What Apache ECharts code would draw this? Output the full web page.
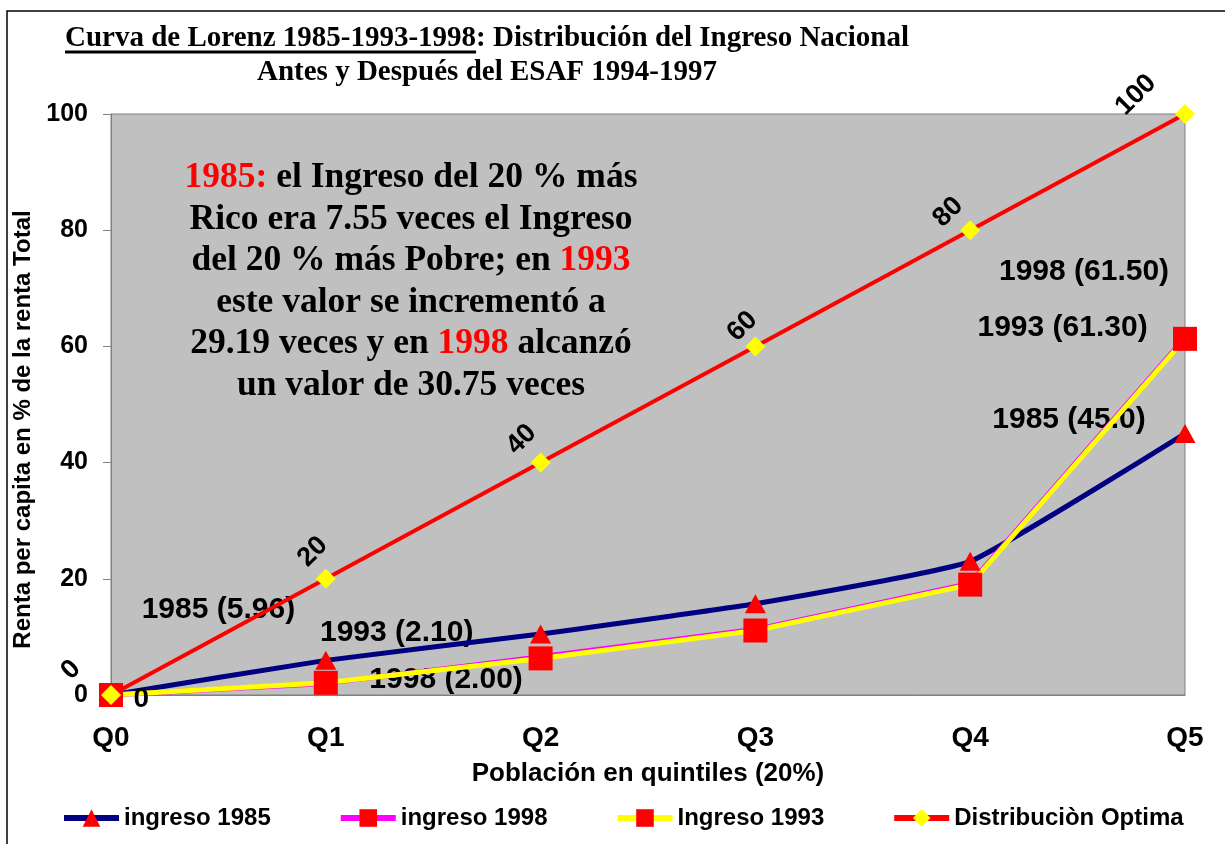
<!DOCTYPE html>
<html>
<head>
<meta charset="utf-8">
<script src="https://cdn.jsdelivr.net/npm/echarts@6/dist/echarts.min.js"></script>
<style>
  html, body { margin: 0; padding: 0; background: #fff; }
  #main { width: 1225px; height: 844px; }
</style>
</head>
<body>
<div id="main"></div>
<script>
// datos
var quintiles = ['Q0', 'Q1', 'Q2', 'Q3', 'Q4', 'Q5'];
var ingreso1985 = [0, 5.96, 10.5, 15.7, 23.0, 45.0];
var ingreso1998 = [0, 2.0, 6.6, 11.3, 19.2, 61.5];
var ingreso1993 = [0, 2.1, 6.3, 11.1, 19.0, 61.3];
var optima = [0, 20, 40, 60, 80, 100];

// notas sueltas: texto, posicion en quintiles, valor
var notas = [
    ['1985 (5.96)', 0.5, 14.6],
    ['1993 (2.10)', 1.33, 10.8],
    ['1998 (2.00)', 1.56, 2.6],
    ['1998 (61.50)', 4.53, 72.8],
    ['1993 (61.30)', 4.43, 63.2],
    ['1985 (45.0)', 4.46, 47.3]
];

var tituloA = 'Curva de Lorenz 1985-1993-1998';
var tituloB = ': Distribución del Ingreso Nacional';
var tituloC = 'Antes y Después del ESAF 1994-1997';

var texto = [
    '{r|1985:} el Ingreso del 20 % más',
    'Rico era 7.55 veces el Ingreso',
    'del 20 % más Pobre; en {r|1993}',
    'este valor se incrementó a',
    '29.19 veces y en {r|1998} alcanzó',
    'un valor de 30.75 veces'
].join('\n');

// desplazamiento de las etiquetas de la linea optima (pantalla, px)
var desplOptima = [[-40, -25], [-13, -27], [-19, -23], [-13, -20], [-22, -18], [-49, -19]];

var chart = echarts.init(document.getElementById('main'));

var c45 = Math.SQRT1_2;
var optimaData = optima.map(function (v, i) {
    var d = desplOptima[i];
    return {
        value: v,
        label: { offset: [d[0] * c45 - d[1] * c45, d[0] * c45 + d[1] * c45] }
    };
});

var data1985 = ingreso1985.map(function (v, i) {
    if (i === 0) {
        return { value: v, label: { show: true, position: 'right', distance: 12, offset: [0, 4], fontSize: 28, fontWeight: 'bold', color: '#000', fontFamily: 'Arial' } };
    }
    return v;
});

var option = {
    animation: false,
    backgroundColor: '#fff',
    grid: {
        left: 111, right: 40, top: 114, bottom: 149,
        show: true, backgroundColor: '#C0C0C0', borderColor: '#808080', borderWidth: 1
    },
    legend: {
        left: 61, top: 806, padding: 0,
        itemWidth: 55, itemHeight: 22, itemGap: 67,
        lineStyle: { width: 6 },
        textStyle: { fontFamily: 'Arial', fontWeight: 'bold', fontSize: 24, color: '#000' },
        data: ['ingreso 1985', 'ingreso 1998', 'Ingreso 1993', 'Distribuciòn Optima']
    },
    xAxis: {
        type: 'category',
        data: quintiles,
        boundaryGap: false,
        axisLine: { lineStyle: { color: '#808080', width: 1 } },
        axisTick: { show: false },
        axisLabel: { margin: 29, fontFamily: 'Arial', fontWeight: 'bold', fontSize: 28, color: '#000' },
        name: 'Población en quintiles (20%)',
        nameLocation: 'middle',
        nameGap: 66,
        nameTextStyle: { fontFamily: 'Arial', fontWeight: 'bold', fontSize: 26, color: '#000' }
    },
    yAxis: {
        type: 'value',
        min: 0, max: 100, interval: 20,
        splitLine: { show: false },
        axisLine: { show: true, lineStyle: { color: '#808080', width: 1 } },
        axisTick: { show: true, length: 8, lineStyle: { color: '#808080' } },
        axisLabel: { margin: 23, fontFamily: 'Arial', fontWeight: 'bold', fontSize: 25, color: '#000' },
        name: 'Renta per capita en % de la renta Total',
        nameLocation: 'middle',
        nameGap: 67,
        nameTextStyle: { fontFamily: 'Arial', fontWeight: 'bold', fontSize: 24, color: '#000', padding: [0, 50, 0, 0] }
    },
    series: [
        {
            name: 'ingreso 1985', type: 'line', data: data1985, smooth: 0.12,
            symbol: 'triangle', symbolSize: [21, 19],
            lineStyle: { color: '#000080', width: 5 },
            itemStyle: { color: '#FF0000' },
            emphasis: { disabled: true }
        },
        {
            name: 'ingreso 1998', type: 'line', data: ingreso1998,
            symbol: 'rect', symbolSize: 12,
            lineStyle: { color: '#FF00FF', width: 5 },
            itemStyle: { color: '#FF0000' },
            emphasis: { disabled: true }
        },
        {
            name: 'Ingreso 1993', type: 'line', data: ingreso1993,
            symbol: 'rect', symbolSize: 24,
            lineStyle: { color: '#FFFF00', width: 5 },
            itemStyle: { color: '#FF0000' },
            emphasis: { disabled: true }
        },
        {
            name: 'Distribuciòn Optima', type: 'line', data: optimaData,
            symbol: 'diamond', symbolSize: 20,
            lineStyle: { color: '#FF0000', width: 4 },
            itemStyle: { color: '#FFFF00' },
            label: {
                show: true, position: 'inside', rotate: 45,
                align: 'center', verticalAlign: 'middle',
                fontFamily: 'Arial', fontWeight: 'bold', fontSize: 27, color: '#000'
            },
            emphasis: { disabled: true }
        }
    ]
};
chart.setOption(option);

// titulo con subrayado y cuadro de texto, y notas en coordenadas del eje
var ctx = document.createElement('canvas').getContext('2d');
var fuenteTitulo = 'bold 29px "Liberation Serif", "Times New Roman", serif';
ctx.font = fuenteTitulo;
var wA = ctx.measureText(tituloA).width;
var wB = ctx.measureText(tituloB).width;
var x0 = 487 - (wA + wB) / 2;

var p0 = chart.convertToPixel({ gridIndex: 0 }, ['Q0', 0]);
var p1 = chart.convertToPixel({ gridIndex: 0 }, ['Q1', 0]);
var paso = p1[0] - p0[0];

var fuenteCuadro = 'bold 35.5px "Liberation Serif", "Times New Roman", serif';
var graficos = [
    { type: 'rect', shape: { x: 7, y: 11, width: 1300, height: 900 }, style: { fill: 'none', stroke: '#000', lineWidth: 1.5 }, silent: true },
    { type: 'text', x: x0, y: 39, style: { text: tituloA, font: fuenteTitulo, fill: '#000', align: 'left', verticalAlign: 'middle' } },
    { type: 'text', x: x0 + wA, y: 39, style: { text: tituloB, font: fuenteTitulo, fill: '#000', align: 'left', verticalAlign: 'middle' } },
    { type: 'line', shape: { x1: x0, y1: 52, x2: x0 + wA, y2: 52 }, style: { stroke: '#000', lineWidth: 3 } },
    { type: 'text', x: 487, y: 73, style: { text: tituloC, font: fuenteTitulo, fill: '#000', align: 'center', verticalAlign: 'middle' } },
    {
        type: 'text', x: 411, y: 157,
        style: {
            text: texto, align: 'center', verticalAlign: 'top',
            font: fuenteCuadro,
            lineHeight: 41.6, fill: '#000',
            rich: { r: { fill: '#FF0000', font: fuenteCuadro, lineHeight: 41.6 } }
        }
    }
];
notas.forEach(function (n) {
    var py = chart.convertToPixel({ yAxisIndex: 0 }, n[2]);
    graficos.push({
        type: 'text', x: p0[0] + n[1] * paso, y: py,
        style: { text: n[0], font: 'bold 30px Arial', fill: '#000', align: 'center', verticalAlign: 'middle' }
    });
});
chart.setOption({ graphic: graficos });
</script>
</body>
</html>
